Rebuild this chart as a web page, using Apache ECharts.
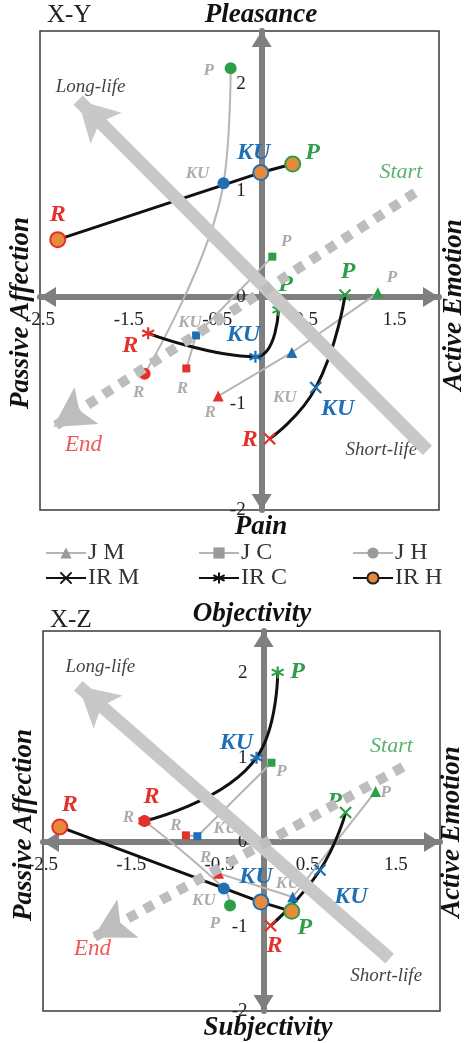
<!DOCTYPE html>
<html><head><meta charset="utf-8">
<script src="https://cdn.jsdelivr.net/npm/echarts@6/dist/echarts.min.js"></script>
<style>html,body{margin:0;padding:0;background:#fff}#c{width:468px;height:1043px}</style>
</head><body><div id="c"></div>
<script>
// ---------- DATA ----------
const stages = ['P', 'KU', 'R'];
const seriesNames = ['J M', 'J C', 'J H', 'IR M', 'IR C', 'IR H'];
const xTicks = [-2.5, -1.5, -0.5, 0.5, 1.5];
const yTicks = [-2, -1, 0, 1, 2];
const xRange = [-2.5, 2];
const yRange = [-2, 2.5];

// X-Y plane, points in stage order P, KU, R as [x, y]
const xyJM  = [[1.31, 0.04], [0.34, -0.52], [-0.49, -0.93]];
const xyJC  = [[0.12, 0.38], [-0.74, -0.36], [-0.85, -0.67]];
const xyJH  = [[-0.35, 2.15], [-0.43, 1.07], [-1.32, -0.72]];
const xyIRM = [[0.94, 0.02], [0.61, -0.85], [0.09, -1.33]];
const xyIRC = [[0.19, -0.12], [-0.07, -0.56], [-1.28, -0.34]];
const xyIRH = [[0.35, 1.25], [-0.01, 1.17], [-2.30, 0.54]];

// X-Z plane
const xzJM  = [[1.27, 0.60], [0.33, -0.65], [-0.51, -0.37]];
const xzJC  = [[0.09, 0.94], [-0.75, 0.07], [-0.88, 0.08]];
const xzJH  = [[-0.38, -0.75], [-0.45, -0.55], [-1.35, 0.25]];
const xzIRM = [[0.93, 0.35], [0.64, -0.33], [0.08, -0.99]];
const xzIRC = [[0.16, 2.01], [-0.08, 1.00], [-1.35, 0.25]];
const xzIRH = [[0.32, -0.82], [-0.03, -0.71], [-2.31, 0.18]];

// trend arrows [tail, tip]
const xyLongLife = [[1.87, -1.44], [-2.07, 1.85]];
const xyStartEnd = [[1.73, 0.98], [-2.35, -1.22]];
const xzLongLife = [[1.43, -1.38], [-2.10, 1.85]];
const xzStartEnd = [[1.58, 0.89], [-1.93, -1.13]];

// annotation texts [text, x, y]
const xyNotes = [['Long-life', -1.93, 1.97], ['Start', 1.57, 1.17], ['End', -2.01, -1.39], ['Short-life', 1.35, -1.44]];
const xzNotes = [['Long-life', -1.85, 2.07], ['Start', 1.45, 1.13], ['End', -1.94, -1.26], ['Short-life', 1.39, -1.58]];

// ---------- STYLE ----------
const FONT = "'Liberation Serif', 'Times New Roman', serif";
const GREEN = '#2e9e48', BLUE = '#1f6fb5', RED = '#e5302a', ORANGE = '#e8893b';
const GRAYLINE = '#b5b5b5', GRAYTEXT = '#acacac';
const stageColor = { P: GREEN, KU: BLUE, R: RED };
const X_PATH = 'path://M0,0L10,10M10,0L0,10';
const AST_PATH = 'path://M5,0L5,10M0.7,2.5L9.3,7.5M0.7,7.5L9.3,2.5';
// arrow head whose tip sits at the centre of its (padded) box
const HEAD_PATH = 'path://M-10,-20M30,20M10,0L20,18L10,14L0,18Z';
const styles = {
  'J M':  { symbol: 'triangle', size: 11, line: GRAYLINE, width: 2, smooth: false, ir: false },
  'J C':  { symbol: 'rect', size: 8, line: GRAYLINE, width: 2, smooth: false, ir: false },
  'J H':  { symbol: 'circle', size: 12, line: GRAYLINE, width: 2, smooth: 0.4, ir: false },
  'IR M': { symbol: X_PATH, size: 11, line: '#111', width: 3, smooth: 0.5, ir: true },
  'IR C': { symbol: AST_PATH, size: 12, line: '#111', width: 3, smooth: 0.5, ir: true },
  'IR H': { symbol: 'circle', size: 15, line: '#111', width: 3, smooth: false, ir: true, fill: ORANGE }
};
const noteStyle = {
  'Long-life': { color: '#111', size: 19 }, 'Short-life': { color: '#111', size: 19 },
  'Start': { color: GREEN, size: 22 }, 'End': { color: RED, size: 23 }
};
// label offsets (pixels) per point, order P, KU, R
const xyOffsets = {
  'J M': [[14, -15], [-7, 45], [-8, 17]], 'J C': [[14, -15], [-6, -13], [-4, 20]],
  'J H': [[-22, 2], [-26, -10], [-6, 19]], 'IR M': [[3, -23], [22, 21], [-20, 1]],
  'IR C': [[7, -25], [-12, -22], [-18, 12]], 'IR H': [[20, -11], [-7, -20], [0, -25]]
};
const xzOffsets = {
  'J M': [[10, 1], [-5, -13], [-13, -16]], 'J C': [[10, 9], [28, -8], [-10, -10]],
  'J H': [[-15, 18], [-20, 12], [-16, -3]], 'IR M': [[-11, -11], [31, 27], [4, 20]],
  'IR C': [[20, -1], [-20, -15], [7, -24]], 'IR H': [[13, 16], [-5, -25], [10, -22]]
};
const grids = [
  { left: 40, top: 31, width: 399, height: 479 },
  { left: 43, top: 631, width: 397, height: 380 }
];

function makeSeries(gi, name, pts, offs) {
  const st = styles[name];
  const isPath = st.symbol.indexOf('path://') === 0;
  const baseColor = st.ir ? '#111' : '#9a9a9a';
  return {
    type: 'line', name, xAxisIndex: gi, yAxisIndex: gi, z: 3,
    smooth: st.smooth, symbol: st.symbol, symbolSize: st.size, showSymbol: true, showAllSymbol: true,
    lineStyle: { color: st.line, width: st.width },
    itemStyle: st.fill ? { color: st.fill, borderColor: '#222', borderWidth: 2 }
      : { color: baseColor, borderColor: baseColor, borderWidth: isPath ? 2.2 : 0 },
    emphasis: { disabled: true },
    data: pts.map((p, i) => {
      const c = stageColor[stages[i]];
      return {
        value: p,
        itemStyle: st.fill ? { color: st.fill, borderColor: c, borderWidth: 2 }
          : { color: c, borderColor: c, borderWidth: isPath ? 2.2 : 0 },
        label: st.ir
          ? { show: true, formatter: stages[i], position: 'inside', offset: offs[i], fontFamily: FONT, fontSize: 24, fontWeight: 'bold', fontStyle: 'italic', color: c }
          : { show: true, formatter: stages[i], position: 'inside', offset: offs[i], fontFamily: FONT, fontSize: 17, fontWeight: 'bold', fontStyle: 'italic', color: GRAYTEXT }
      };
    })
  };
}
function arrowSeries(gi, line, dashed) {
  const col = dashed ? '#bdbdbd' : '#c8c8c8';
  return {
    type: 'line', xAxisIndex: gi, yAxisIndex: gi, z: 1, silent: true, data: line,
    showSymbol: false, symbol: 'none', lineStyle: { opacity: 0 },
    markLine: {
      silent: true, symbol: ['none', HEAD_PATH], symbolSize: 88, label: { show: false }, animation: false,
      lineStyle: { color: col, opacity: 1, width: dashed ? 10 : 13, type: dashed ? [10, 9] : 'solid', cap: 'butt' },
      itemStyle: { color: col },
      emphasis: { disabled: true },
      data: [[{ coord: line[0] }, { coord: line[1] }]]
    }
  };
}
function noteSeries(gi, notes) {
  return {
    type: 'scatter', xAxisIndex: gi, yAxisIndex: gi, z: 4, silent: true, symbolSize: 0,
    itemStyle: { color: 'transparent' },
    data: notes.map(n => ({
      value: [n[1], n[2]],
      label: { show: true, position: 'inside', formatter: n[0], fontFamily: FONT, fontStyle: 'italic', fontSize: noteStyle[n[0]].size, color: noteStyle[n[0]].color }
    }))
  };
}
const axisLineStyle = { onZero: false, symbol: ['triangle', 'triangle'], symbolSize: [20, 16], symbolOffset: [8, -8], lineStyle: { color: '#7f7f7f', width: 6 } };
function xAxisCfg(gi) {
  // move the axis from the grid bottom up to y = 0
  const off = -grids[gi].height * (0 - yRange[0]) / (yRange[1] - yRange[0]);
  return {
    type: 'value', gridIndex: gi, min: xRange[0], max: xRange[1], interval: 0.5, z: 2, offset: off,
    axisLine: axisLineStyle,
    axisTick: { show: false }, splitLine: { show: false },
    axisLabel: { margin: 13, fontFamily: FONT, fontSize: 19, color: '#222', showMinLabel: true, showMaxLabel: true,
      formatter: v => xTicks.some(t => Math.abs(t - v) < 1e-6) ? String(v) : '' }
  };
}
function yAxisCfg(gi) {
  const off = -grids[gi].width * (0 - xRange[0]) / (xRange[1] - xRange[0]);
  return {
    type: 'value', gridIndex: gi, min: yRange[0], max: yRange[1], interval: 1, z: 2, offset: off,
    axisLine: axisLineStyle,
    axisTick: { show: false }, splitLine: { show: false },
    axisLabel: { margin: 16, fontFamily: FONT, fontSize: 19, color: '#222',
      formatter: v => yTicks.some(t => Math.abs(t - v) < 1e-6) ? String(v) : '' }
  };
}

const xyData = { 'J M': xyJM, 'J C': xyJC, 'J H': xyJH, 'IR M': xyIRM, 'IR C': xyIRC, 'IR H': xyIRH };
const xzData = { 'J M': xzJM, 'J C': xzJC, 'J H': xzJH, 'IR M': xzIRM, 'IR C': xzIRC, 'IR H': xzIRH };

const series = [
  arrowSeries(0, xyLongLife, false), arrowSeries(0, xyStartEnd, true),
  arrowSeries(1, xzLongLife, false), arrowSeries(1, xzStartEnd, true)
];
seriesNames.forEach(n => series.push(makeSeries(0, n, xyData[n], xyOffsets[n])));
seriesNames.forEach(n => series.push(makeSeries(1, n, xzData[n], xzOffsets[n])));
series.push(noteSeries(0, xyNotes), noteSeries(1, xzNotes));

const legendCols = [45, 198, 352], legendRows = [541, 566];
const legend = seriesNames.map((n, i) => ({
  data: [n], left: legendCols[i % 3], top: legendRows[Math.floor(i / 3)], padding: 0,
  itemWidth: 40, itemHeight: 14, selectedMode: false,
  textStyle: { fontFamily: FONT, fontSize: 24, color: '#333', padding: [0, 0, 0, -3] }
}));

const titleFont = `italic bold 27px ${FONT}`;
const graphic = [
  { type: 'text', x: 47, y: 15, style: { text: 'X-Y', font: `25px ${FONT}`, fill: '#222', align: 'left', verticalAlign: 'middle' } },
  { type: 'text', x: 261, y: 15, style: { text: 'Pleasance', font: titleFont, fill: '#111', align: 'center', verticalAlign: 'middle' } },
  { type: 'text', x: 261, y: 527, style: { text: 'Pain', font: titleFont, fill: '#111', align: 'center', verticalAlign: 'middle' } },
  { type: 'text', x: 21, y: 313, rotation: Math.PI / 2, style: { text: 'Passive Affection', font: titleFont, fill: '#111', align: 'center', verticalAlign: 'middle' } },
  { type: 'text', x: 454, y: 305, rotation: Math.PI / 2, style: { text: 'Active Emotion', font: titleFont, fill: '#111', align: 'center', verticalAlign: 'middle' } },
  { type: 'text', x: 50, y: 620, style: { text: 'X-Z', font: `25px ${FONT}`, fill: '#222', align: 'left', verticalAlign: 'middle' } },
  { type: 'text', x: 252, y: 614, style: { text: 'Objectivity', font: titleFont, fill: '#111', align: 'center', verticalAlign: 'middle' } },
  { type: 'text', x: 268, y: 1028, style: { text: 'Subjectivity', font: titleFont, fill: '#111', align: 'center', verticalAlign: 'middle' } },
  { type: 'text', x: 24, y: 825, rotation: Math.PI / 2, style: { text: 'Passive Affection', font: titleFont, fill: '#111', align: 'center', verticalAlign: 'middle' } },
  { type: 'text', x: 452, y: 832, rotation: Math.PI / 2, style: { text: 'Active Emotion', font: titleFont, fill: '#111', align: 'center', verticalAlign: 'middle' } }
];

const chart = echarts.init(document.getElementById('c'), null, { renderer: 'canvas' });
chart.setOption({
  animation: false,
  backgroundColor: '#fff',
  grid: grids.map(g => Object.assign({ show: true, borderColor: '#3a3a3a', borderWidth: 1.5, backgroundColor: 'transparent', containLabel: false }, g)),
  xAxis: [xAxisCfg(0), xAxisCfg(1)],
  yAxis: [yAxisCfg(0), yAxisCfg(1)],
  legend,
  graphic,
  series
});
</script></body></html>
